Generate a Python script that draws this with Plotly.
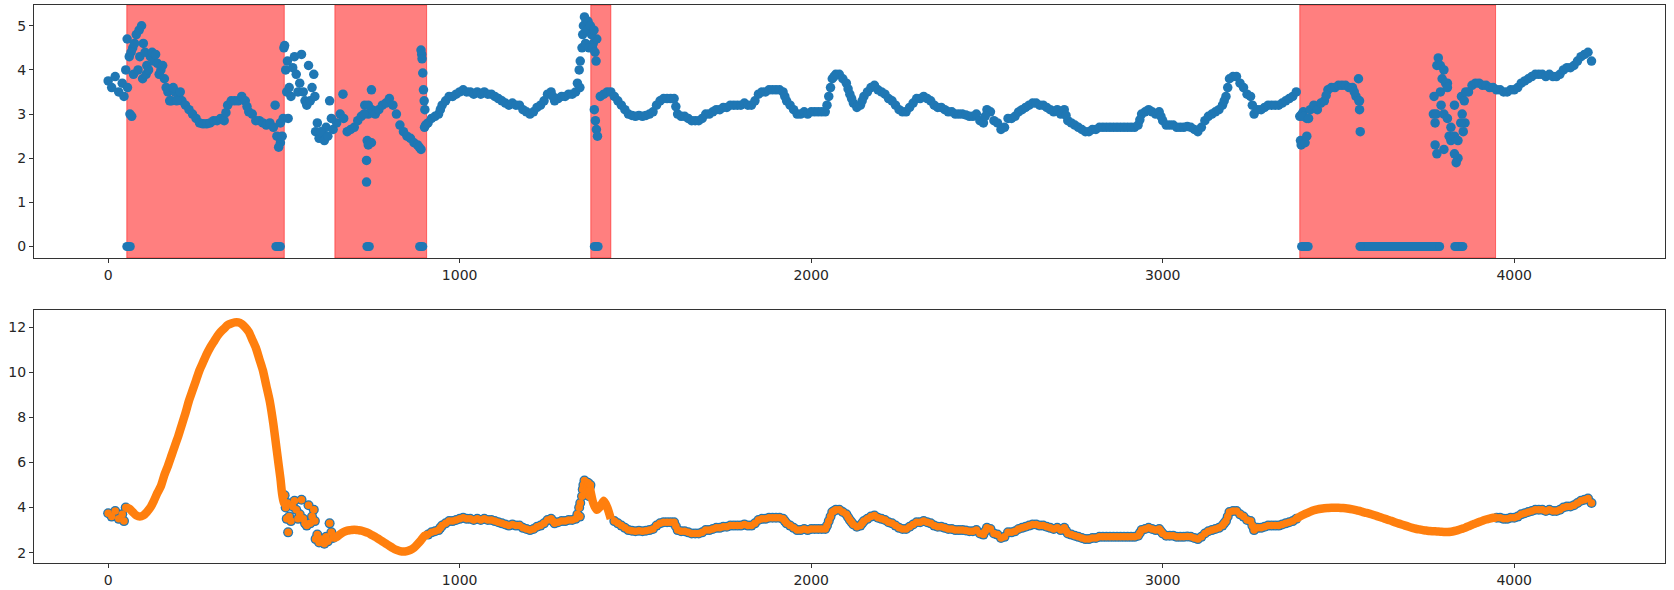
import plotly.graph_objects as go

# ---------------- data ----------------
sample_step = 10  # spacing of the readings along x

main_vals = [
    3.75, 3.6, 3.85, 3.5, 3.7, 4.0, 4.3, 4.5, 4.8, 4.3,
    4.6, 4.1, 4.3, 4.2, 4.15, 4.0, 3.8, 3.5, 3.3, 3.5,
    3.4, 3.3, 3.2, 3.1, 3.0, 2.9, 2.8, 2.78, 2.78, 2.8,
    2.85, 2.85, 2.9, 2.85, 3.2, 3.3, 3.3, 3.3, 3.4, 3.3,
    3.05, 3.0, 2.85, 2.85, 2.8, 2.75, 2.8, 2.7, 2.5, 2.35,
    4.5, 4.2, 3.4, 4.3, 3.5, 4.35, 3.3, 4.1, 3.6, 2.6,
    2.45, 2.55, 2.7, 3.3, 2.65, 2.8, 3.0, 2.9, 2.6, 2.65,
    2.7, 2.85, 2.95, 3.2, 3.0, 3.1, 3.0, 3.1, 3.2, 3.25,
    3.35, 3.2, 3.0, 2.75, 2.6, 2.5, 2.45, 2.35, 2.3, 2.2,
    2.7, 2.8, 2.9, 2.95, 3.0, 3.2, 3.3, 3.4, 3.4, 3.45,
    3.5, 3.55, 3.5, 3.5, 3.45, 3.5, 3.45, 3.5, 3.45, 3.45,
    3.4, 3.35, 3.3, 3.25, 3.2, 3.25, 3.2, 3.2, 3.1, 3.05,
    3.0, 3.05, 3.15, 3.2, 3.3, 3.45, 3.5, 3.3, 3.35, 3.4,
    3.4, 3.45, 3.45, 3.5, 4.0, 4.8, 5.1, 4.9, 4.6, 4.7,
    3.4, 3.45, 3.5, 3.5, 3.4, 3.3, 3.2, 3.1, 3.0, 2.97,
    2.95, 2.97, 2.95, 2.97, 3.0, 3.05, 3.2, 3.3, 3.35, 3.35,
    3.35, 3.35, 3.0, 2.95, 2.95, 2.9, 2.85, 2.85, 2.85, 2.9,
    3.0, 3.0, 3.05, 3.1, 3.1, 3.15, 3.15, 3.2, 3.2, 3.2,
    3.2, 3.25, 3.2, 3.2, 3.3, 3.45, 3.5, 3.5, 3.55, 3.55,
    3.55, 3.55, 3.5, 3.3, 3.2, 3.1, 3.0, 3.0, 3.05, 3.0,
    3.05, 3.05, 3.05, 3.05, 3.05, 3.4, 3.8, 3.9, 3.9, 3.8,
    3.7, 3.45, 3.25, 3.15, 3.2, 3.4, 3.5, 3.6, 3.65, 3.55,
    3.5, 3.45, 3.35, 3.3, 3.2, 3.1, 3.05, 3.05, 3.15, 3.25,
    3.35, 3.35, 3.4, 3.35, 3.3, 3.2, 3.15, 3.15, 3.1, 3.05,
    3.05, 3.0, 3.0, 3.0, 2.98, 2.95, 2.95, 3.0, 2.85, 2.8,
    3.1, 3.05, 2.85, 2.8, 2.65, 2.7, 2.9, 2.9, 2.95, 3.05,
    3.1, 3.15, 3.2, 3.25, 3.25, 3.2, 3.2, 3.15, 3.1, 3.05,
    3.1, 3.0, 3.1, 2.85, 2.8, 2.75, 2.7, 2.65, 2.6, 2.6,
    2.65, 2.65, 2.7, 2.7, 2.7, 2.7, 2.7, 2.7, 2.7, 2.7,
    2.7, 2.7, 2.7, 2.75, 3.0, 3.05, 3.1, 3.05, 3.0, 3.05,
    2.85, 2.75, 2.75, 2.75, 2.7, 2.7, 2.7, 2.72, 2.7, 2.65,
    2.6, 2.7, 2.85, 2.95, 3.0, 3.05, 3.1, 3.2, 3.4, 3.8,
    3.85, 3.85, 3.7, 3.6, 3.45, 3.4, 3.0, 3.1, 3.1, 3.15,
    3.2, 3.2, 3.2, 3.2, 3.25, 3.3, 3.35, 3.4, 3.5, 2.95,
    3.05, 2.9, 3.1, 3.2, 3.1, 3.25, 3.3, 3.55, 3.6, 3.6,
    3.65, 3.65, 3.65, 3.6, 3.6, 3.4, 3.3, None, None, None,
    None, None, None, None, None, None, None, None, None, None,
    None, None, None, None, None, None, None, 3.0, 4.1, 3.5,
    2.2, 3.7, 2.4, 3.2, 2.0, 3.4, 2.8, 3.5, 3.65, 3.7,
    3.7, 3.65, 3.65, 3.6, 3.6, 3.55, 3.55, 3.5, 3.5, 3.55,
    3.55, 3.6, 3.7, 3.75, 3.8, 3.85, 3.9, 3.9, 3.9, 3.85,
    3.9, 3.85, 3.85, 3.9, 4.0, 4.05, 4.05, 4.1, 4.2, 4.3,
    4.35, 4.4, 4.2,
]

# scattered extra readings (several values at nearly the same x, and readings on steep steps)
extra_x = [45, 54, 55, 62, 67, 65, 72, 75, 85, 88, 95, 98, 105, 108, 115, 125, 135, 145, 155,
           165, 175, 185, 195, 205,
           335, 395,
           475, 485, 490, 495, 498, 502, 505, 508, 512, 515, 525, 535, 545, 555, 565, 575,
           585, 588, 595, 605, 615, 625, 635, 668,
           728, 735, 735, 737, 740, 740, 749, 749,
           885, 890, 892, 893, 895, 897, 899, 901, 903, 945,
           1265, 1335,
           1342, 1343, 1348, 1352, 1355, 1358, 1362, 1365, 1368, 1372, 1375, 1378, 1382,
           1385, 1388, 1383, 1386, 1389, 1392,
           1615, 1925, 2045, 2055, 2065, 2105, 2115, 2145, 2495, 2725, 2935, 2995,
           3175, 3185, 3255,
           3392, 3394, 3396, 3400, 3405, 3410, 3415, 3465, 3545,
           3557, 3558, 3560, 3562,
           3772, 3775, 3778, 3775, 3780, 3784, 3790, 3792, 3795, 3800, 3800, 3805, 3810,
           3810, 3815, 3820, 3830, 3835, 3830, 3840, 3848, 3852, 3855, 3858, 3862]
extra_y = [3.4, 4.7, 3.6, 3.0, 2.95, 4.4, 3.9, 4.6, 4.0, 4.9, 5.0, 3.8, 4.4, 3.9, 4.0, 4.4, 4.35, 3.9, 4.1,
           3.6, 3.3, 3.6, 3.3, 3.5,
           3.03, 3.17,
           3.2, 2.25, 2.8, 2.5, 2.9, 4.55, 4.0, 3.5, 2.9, 3.6, 4.05, 3.9, 3.7, 3.5, 3.2, 3.3,
           3.9, 3.4, 2.8, 2.6, 2.4, 2.5, 2.9, 3.45,
           3.0, 1.95, 1.46, 2.4, 3.2, 2.3, 3.55, 2.35,
           2.25, 4.45, 4.35, 4.25, 3.93, 3.55, 3.3, 3.1, 2.75, 3.1,
           3.4, 3.7,
           3.6, 4.2, 4.5, 5.0, 5.2, 4.6, 4.9, 5.1, 4.5, 5.0, 4.8, 4.5, 4.9,
           4.4, 4.2, 3.1, 2.85, 2.65, 2.5,
           3.17, 3.4, 3.2, 3.6, 3.85, 3.57, 3.35, 3.3, 2.95, 2.97, 2.87, 2.95,
           3.3, 3.6, 3.2,
           2.4, 2.3, 3.0, 2.95, 2.35, 2.5, 2.9, 3.42, 3.5,
           3.8, 3.3, 3.1, 2.6,
           3.4, 2.8, 3.0, 2.3, 2.1, 4.27, 4.1, 3.2, 3.8, 4.0, 3.0, 3.7, 3.6,
           2.9, 2.5, 2.7, 2.1, 1.9, 2.5, 2.4, 2.8, 3.0, 2.6, 3.3, 3.5]

# x-spans where the reading is exactly zero
zero_spans = [(53, 63), (477, 490), (736, 743), (886, 895), (1383, 1394),
              (3395, 3414), (3561, 3788), (3831, 3854)]

# shaded (red) spans
shade_spans = [(53, 501), (645, 906), (1373, 1430), (3390, 3947)]

# filled curve values inside the shaded spans (lower panel, orange)
fill_starts = [60, 650, 1380, 3390]
fill1_vals = [3.95, 3.8, 3.65, 3.6, 3.65, 3.8, 4.0, 4.3, 4.65, 4.95,
              5.45, 5.85, 6.3, 6.75, 7.2, 7.7, 8.2, 8.75, 9.2, 9.65,
              10.1, 10.45, 10.8, 11.1, 11.35, 11.6, 11.8, 11.95, 12.1, 12.17,
              12.22, 12.22, 12.15, 12.0, 11.8, 11.45, 11.1, 10.6, 10.1, 9.4,
              8.7, 7.7, 6.5, 5.3, 4.2]
fill2_vals = [2.7, 2.82, 2.92, 2.98, 3.0, 3.02, 3.0, 2.98, 2.93, 2.87,
              2.78, 2.7, 2.6, 2.5, 2.4, 2.3, 2.2, 2.12, 2.07, 2.05,
              2.07, 2.12, 2.22, 2.38, 2.55, 2.75]
fill3_vals = [4.2, 3.9, 4.05, 4.3, 4.0]
fill4_vals = [3.6, 3.68, 3.75, 3.82, 3.88, 3.92, 3.95, 3.97, 3.98, 3.99,
              3.99, 3.99, 3.98, 3.97, 3.95, 3.92, 3.89, 3.85, 3.8, 3.76,
              3.72, 3.67, 3.62, 3.57, 3.52, 3.46, 3.41, 3.35, 3.3, 3.25,
              3.2, 3.15, 3.1, 3.06, 3.03, 3.0, 2.98, 2.96, 2.95, 2.94,
              2.93, 2.92, 2.92, 2.93, 2.96, 3.0, 3.05, 3.1, 3.17, 3.24,
              3.3, 3.36, 3.42, 3.47, 3.51, 3.55]

x_ticks = [0, 1000, 2000, 3000, 4000]
y_ticks_top = [0, 1, 2, 3, 4, 5]
y_ticks_bottom = [2, 4, 6, 8, 10, 12]

# ---------------- build series ----------------
sample_x = [i * sample_step for i in range(len(main_vals))]
main_lookup = dict(zip(sample_x, main_vals))

top_x = sample_x + extra_x
top_y = main_vals + extra_y


def in_shade(x):
    return any(a <= x <= b for a, b in shade_spans)


low_x, low_y = [], []
for xx, yy in zip(top_x, top_y):
    if yy is not None and not in_shade(xx):
        low_x.append(xx)
        low_y.append(yy)

# orange filled segments drawn as a thick continuous curve, joined to the neighbouring readings
seg_x, seg_y = [], []
for start, vals in zip(fill_starts, [fill1_vals, fill2_vals, fill3_vals, fill4_vals]):
    xs = [start + i * sample_step for i in range(len(vals))]
    ys = list(vals)
    before, after = xs[0] - sample_step, xs[-1] + sample_step
    if main_lookup.get(before) is not None:
        xs.insert(0, before)
        ys.insert(0, main_lookup[before])
    if main_lookup.get(after) is not None:
        xs.append(after)
        ys.append(main_lookup[after])
    seg_x += xs + [None]
    seg_y += ys + [None]

zx, zy = [], []
for a, b in zero_spans:
    zx += [a, b, None]
    zy += [0, 0, None]

BLUE = "#1f77b4"
ORANGE = "#ff7f0e"
MS = 9.5

fig = go.Figure()
fig.add_trace(go.Scatter(x=zx, y=zy, mode="lines+markers", xaxis="x", yaxis="y",
                         line=dict(color=BLUE, width=9), marker=dict(color=BLUE, size=9),
                         showlegend=False, hoverinfo="skip"))
fig.add_trace(go.Scatter(x=top_x, y=top_y, mode="markers", xaxis="x", yaxis="y",
                         marker=dict(color=BLUE, size=MS, line=dict(width=0)), showlegend=False))
fig.add_trace(go.Scatter(x=low_x, y=low_y, mode="markers", xaxis="x2", yaxis="y2",
                         marker=dict(color=BLUE, size=MS + 0.5, line=dict(width=0)), showlegend=False))
fig.add_trace(go.Scatter(x=low_x, y=low_y, mode="markers", xaxis="x2", yaxis="y2",
                         marker=dict(color=ORANGE, size=7.5, line=dict(width=0)), showlegend=False))
fig.add_trace(go.Scatter(x=seg_x, y=seg_y, mode="lines", xaxis="x2", yaxis="y2",
                         line=dict(color=ORANGE, width=8.5, shape="spline", smoothing=0.6),
                         showlegend=False))

for a, b in shade_spans:
    fig.add_shape(type="rect", xref="x", yref="y domain", x0=a, x1=b, y0=0, y1=1,
                  fillcolor="rgba(255,0,0,0.5)", line=dict(color="rgba(255,0,0,0.5)", width=1),
                  layer="below")

axis_common = dict(showgrid=False, zeroline=False, showline=True, mirror=True,
                   linecolor="#333333", linewidth=1, ticks="outside", ticklen=4,
                   tickwidth=1, tickcolor="#333333",
                   tickfont=dict(family="DejaVu Sans", size=14, color="#262626"))

XDOM = [34 / 1674, 1665 / 1674]
fig.update_layout(
    width=1674, height=590,
    margin=dict(l=0, r=0, t=0, b=0),
    paper_bgcolor="white", plot_bgcolor="white",
    xaxis=dict(domain=XDOM, anchor="y", range=[-211, 4429], tickvals=x_ticks, **axis_common),
    yaxis=dict(domain=[1 - 258 / 590, 1 - 5 / 590], anchor="x", range=[-0.26, 5.47],
               tickvals=y_ticks_top, **axis_common),
    xaxis2=dict(domain=XDOM, anchor="y2", range=[-211, 4429], tickvals=x_ticks, **axis_common),
    yaxis2=dict(domain=[1 - 563 / 590, 1 - 310 / 590], anchor="x2", range=[1.54, 12.77],
                tickvals=y_ticks_bottom, **axis_common),
)

fig.write_html("out.html", config={"displayModeBar": False},
               post_script="document.body.style.margin='0';")
